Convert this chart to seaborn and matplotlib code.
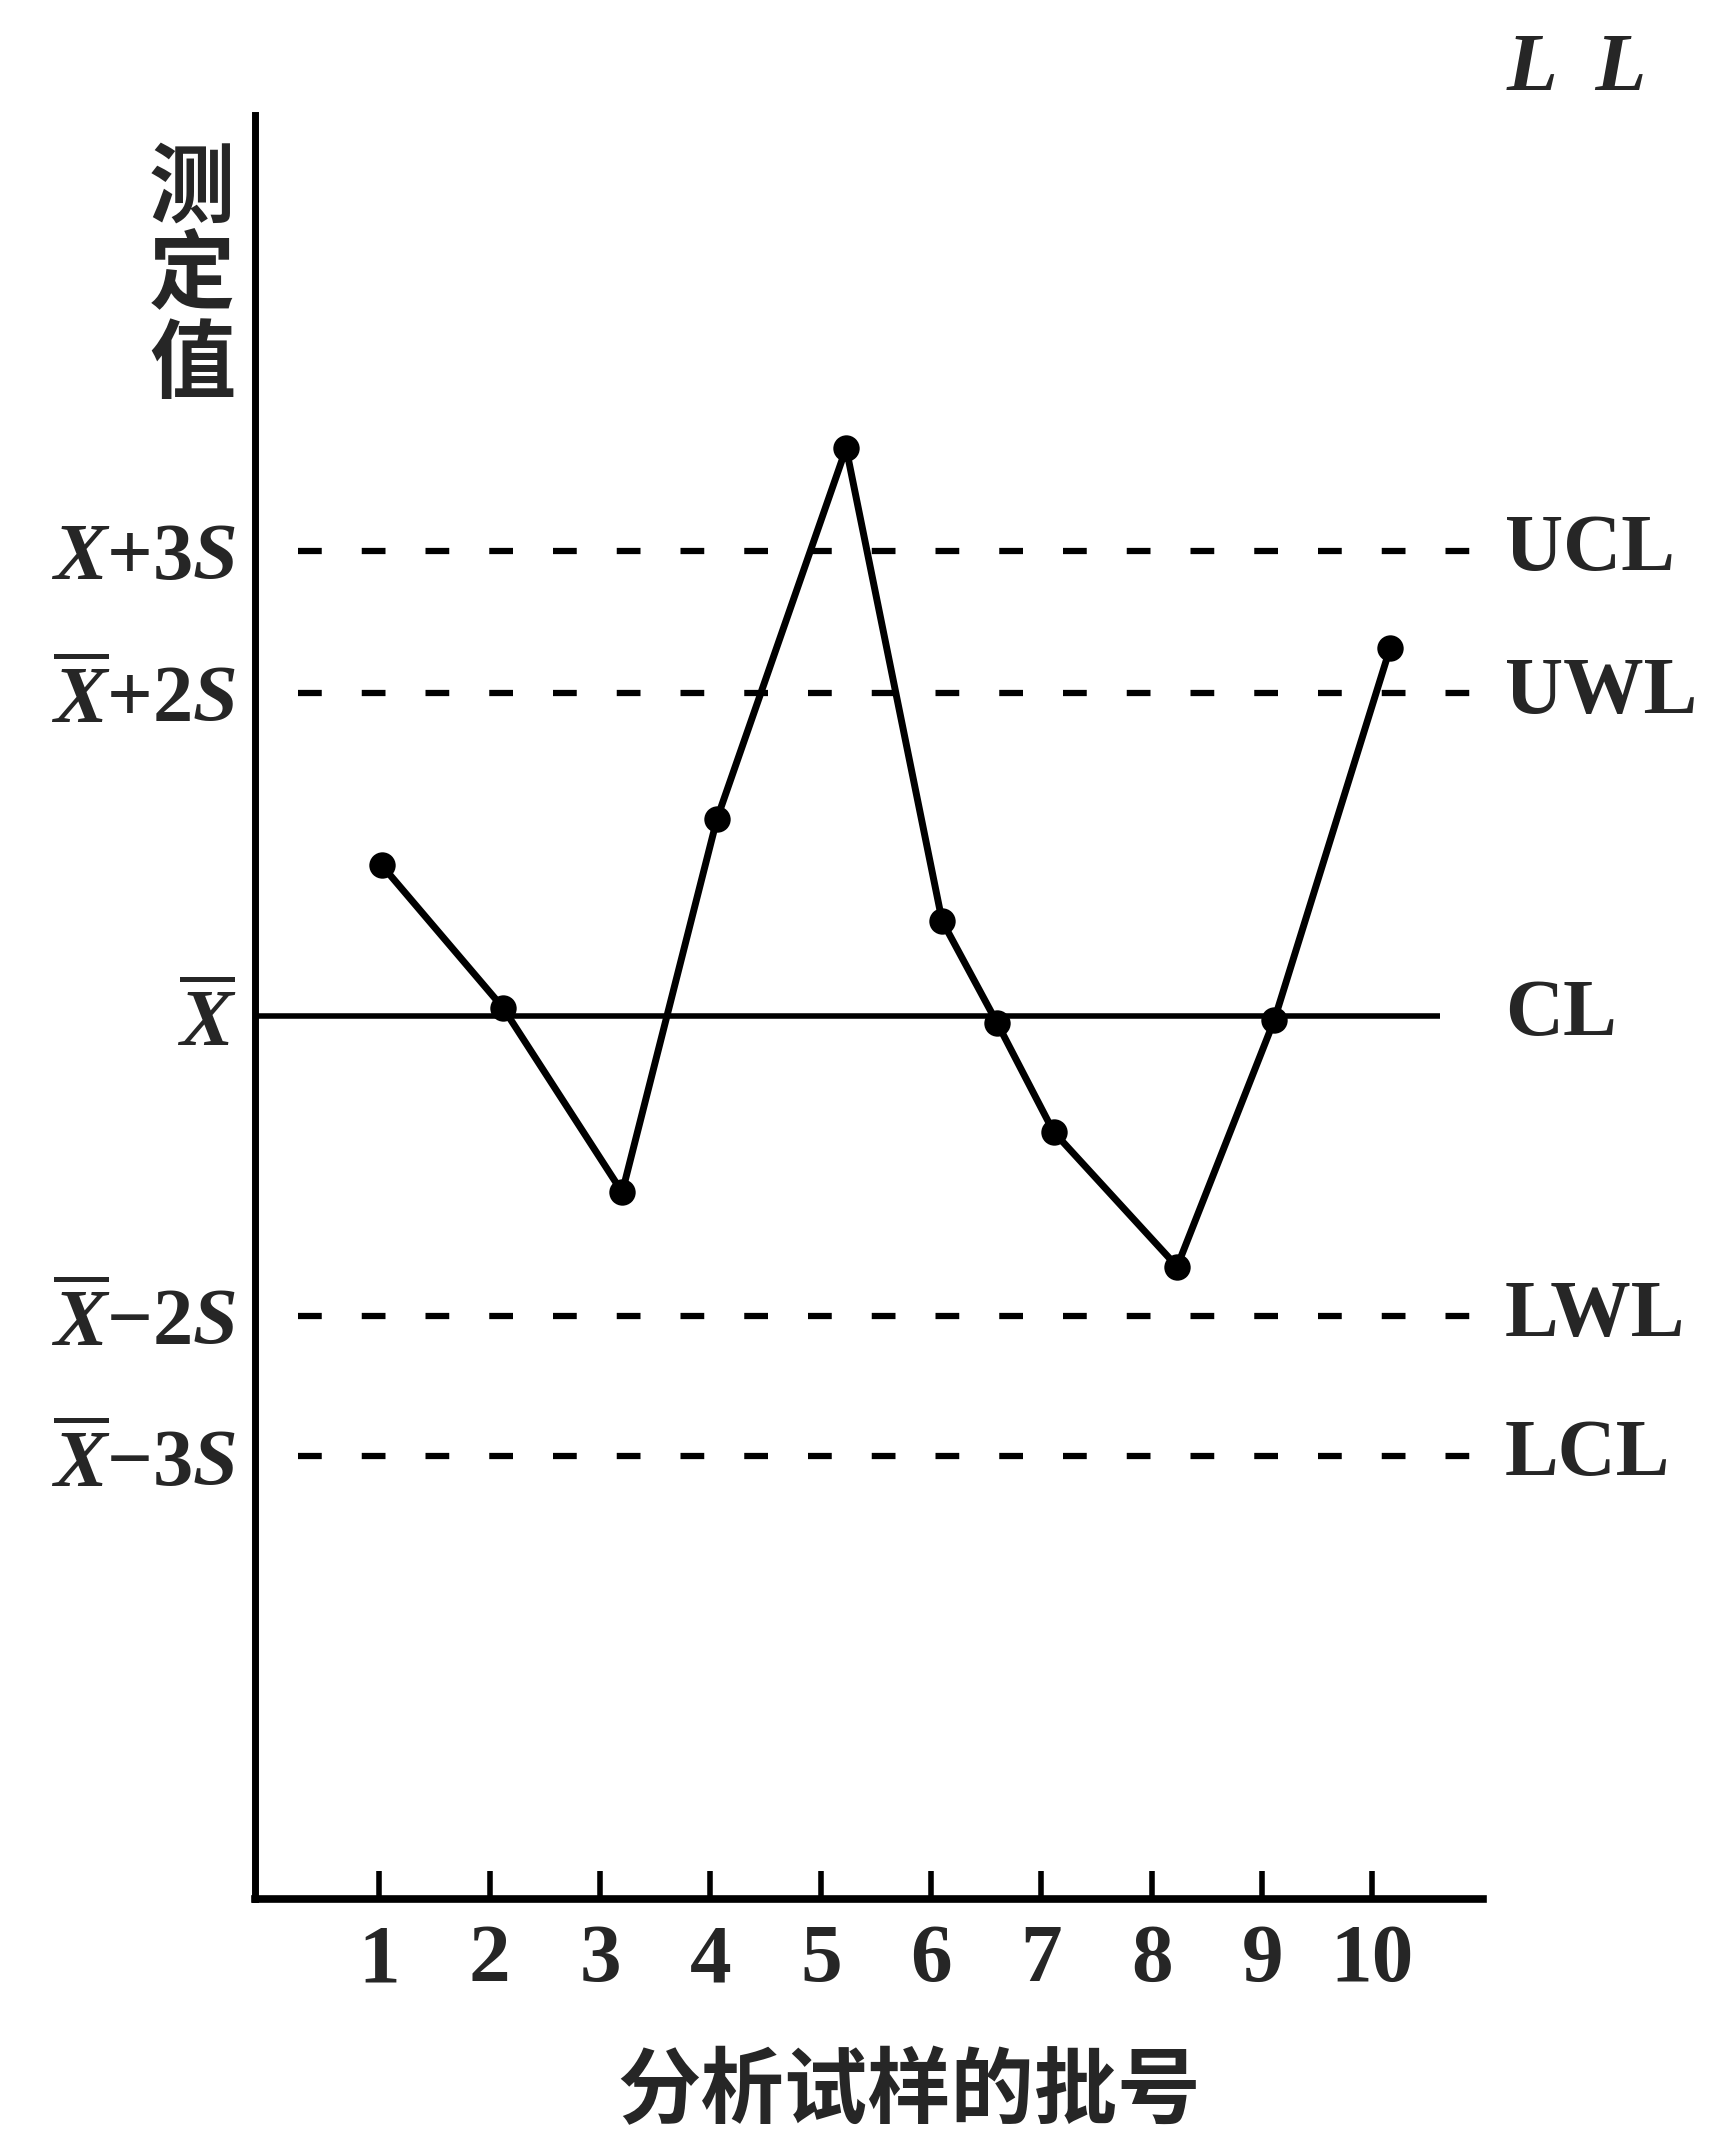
import numpy as np
import pandas as pd
import matplotlib
matplotlib.use('Agg')
import matplotlib.pyplot as plt
import matplotlib.transforms as mtransforms
import seaborn as sns

# batch positions of the plotted points and measured values (in units of S around the mean)
batch_x = [1.02, 2.12, 3.20, 4.06, 5.23, 6.10, 6.60, 7.11, 8.23, 9.11, 10.16]
measured = [0.97, 0.05, -1.14, 1.27, 3.66, 0.61, -0.05, -0.75, -1.62, -0.03, 2.37]

tick_pos = [1, 2, 3, 4, 5, 6, 7, 8, 9, 10]
tick_labels = ['1', '2', '3', '4', '5', '6', '7', '8', '9', '10']

# control / warning limits
limit_names = ['UCL', 'UWL', 'CL', 'LWL', 'LCL']
limit_labels = [r'$X{+}3S$', r'$\overline{X}{+}2S$', r'$\overline{X}$',
                r'$\overline{X}{-}2S$', r'$\overline{X}{-}3S$']
limit_values = [3.0, 2.08, 0.0, -1.94, -2.84]

sns.set_style('white')
plt.rcParams['font.family'] = ['Liberation Serif', 'Noto Sans CJK SC']
plt.rcParams['mathtext.fontset'] = 'custom'
plt.rcParams['mathtext.rm'] = 'Liberation Serif:bold'
plt.rcParams['mathtext.it'] = 'Liberation Serif:italic:bold'
plt.rcParams['mathtext.bf'] = 'Liberation Serif:bold'

fig = plt.figure(figsize=(17.1, 21.33), dpi=100)
ax = fig.add_axes([0.149, 0.1097, 0.7181, 0.8364])

df = pd.DataFrame({'batch': batch_x, 'value': measured})
sns.lineplot(data=df, x='batch', y='value', ax=ax, color='black', lw=5,
             marker='o', markersize=19, markeredgewidth=0, zorder=4)

# limit lines
for name, val in zip(limit_names, limit_values):
    if name == 'CL':
        ax.plot([-0.13, 10.61], [val, val], color='black', lw=4, solid_capstyle='butt')
    else:
        ax.plot([0.26, 10.95], [val, val], color='black', lw=4.5, dashes=(3.8, 6.4))

trans = mtransforms.blended_transform_factory(ax.transAxes, ax.transData)
for name, val in zip(limit_names, limit_values):
    ax.text(1.018, val, name, transform=trans, ha='left', va='center',
            fontsize=58, fontweight='bold')

ax.set_yticks(limit_values)
ax.set_yticklabels(limit_labels, fontsize=58)
ax.tick_params(axis='y', left=False, length=0, pad=13)

ax.set_xticks(tick_pos)
ax.set_xticklabels(tick_labels, fontsize=60, fontweight='bold')
ax.tick_params(axis='x', bottom=True, direction='in', length=20, width=4,
               pad=18, color='black')

ax.set_xlim(-0.13, 11.0)
ax.set_ylim(-5.70, 5.81)

ax.set_ylabel('测\n定\n值', rotation=0, fontsize=62, fontweight='bold',
              family='Noto Sans CJK SC', linespacing=1.0, ha='center', va='center')
ax.yaxis.set_label_coords(-0.051, 0.909)
ax.set_xlabel('分析试样的批号', fontsize=60, fontweight='bold', family='Noto Sans CJK SC')
ax.xaxis.set_label_coords(0.533, -0.0846)

fig.text(0.922, 0.967, 'L  L', ha='center', va='center', fontsize=60,
         style='italic', weight='bold')

sns.despine(ax=ax)
ax.spines['left'].set_linewidth(5)
ax.spines['bottom'].set_linewidth(5.5)
ax.spines['left'].set_color('black')
ax.spines['bottom'].set_color('black')

fig.savefig('out.png', dpi=100)
